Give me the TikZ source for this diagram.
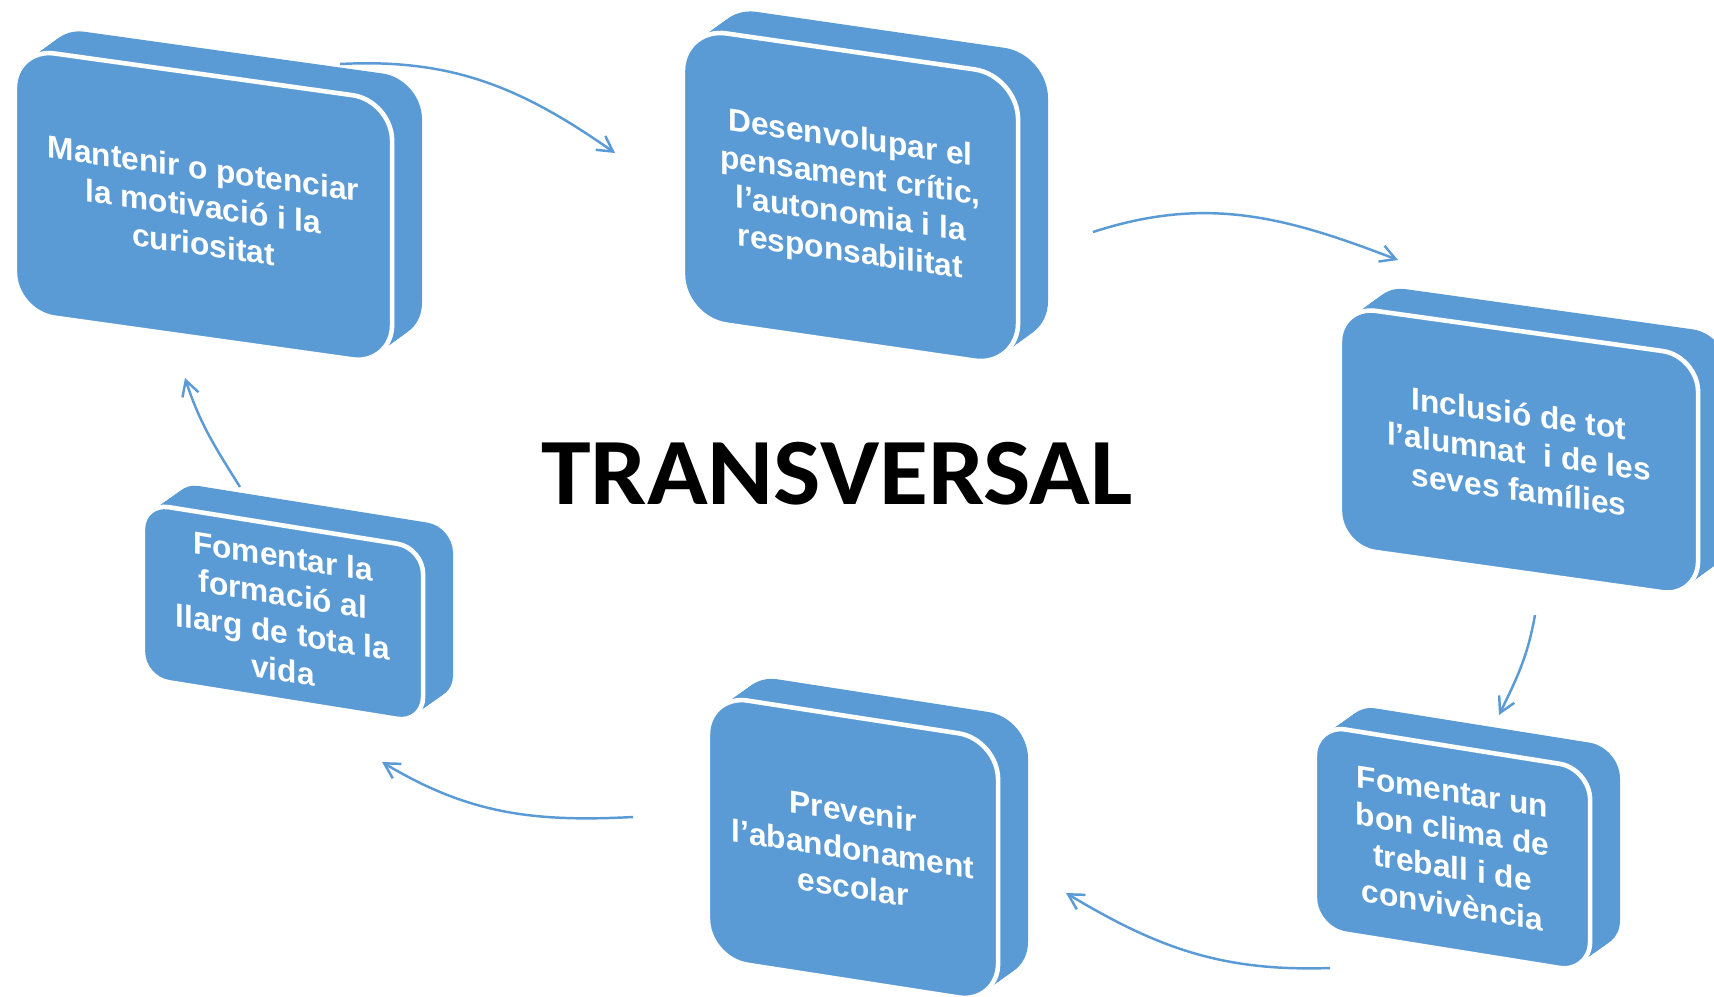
\documentclass[tikz,border=0pt]{standalone}
\usepackage{fontspec}
\setmainfont{Liberation Sans}
\newfontfamily\titlefont{Carlito}
\usetikzlibrary{arrows.meta}
\definecolor{cardblue}{RGB}{91,155,213}
\tikzset{
card/.style={draw=white, line width=1.3pt, fill=cardblue, text=white, align=center, inner sep=0pt, transform shape, font=\bfseries\fontsize{9}{10.8}\selectfont}, % front face of a block
cardside/.style={fill=cardblue}, % extruded back of a block
flow/.style={-{Straight Barb[length=4.3pt,width=4.8pt]}, cardblue, line width=0.7pt},
}
\begin{document}
\begin{tikzpicture}[x=0.01cm, y=-0.01cm]
\useasboundingbox (0,0) rectangle (1714,996);
\clip (0,0) rectangle (1714,996);

% motivacio
\begin{scope}[shift={(203.5,206.4)}, yslant=-0.14]
\foreach \d in {0,...,10}
  \fill[cardside, rounded corners=0.4cm, shift={(3*\d,-2.6*\d)}] (-188.5,-132) rectangle (188.5,132);
\node[card, minimum width=3.77cm, minimum height=2.64cm, rounded corners=0.4cm] (motiv) {Mantenir o potenciar\\la motivació i la\\curiositat};
\end{scope}

% pensament critic
\begin{scope}[shift={(850.5,197)}, yslant=-0.145]
\foreach \d in {0,...,10}
  \fill[cardside, rounded corners=0.44cm, shift={(3*\d,-2.6*\d)}] (-167.5,-145.5) rectangle (167.5,145.5);
\node[card, minimum width=3.35cm, minimum height=2.91cm, rounded corners=0.44cm] (critic) {Desenvolupar el\\pensament crític,\\l’autonomia i la\\responsabilitat};
\end{scope}

% inclusio
\begin{scope}[shift={(1519,451.5)}, yslant=-0.14]
\foreach \d in {0,...,10}
  \fill[cardside, rounded corners=0.36cm, shift={(3*\d,-2.6*\d)}] (-179,-120.5) rectangle (179,120.5);
\node[card, minimum width=3.58cm, minimum height=2.41cm, rounded corners=0.36cm] (inclusio) {Inclusió de tot\\l’alumnat\ \ i de les\\seves famílies};
\end{scope}

% clima
\begin{scope}[shift={(1452.5,848.7)}, yslant=-0.16]
\foreach \d in {0,...,10}
  \fill[cardside, rounded corners=0.31cm, shift={(3*\d,-2.6*\d)}] (-137.5,-102) rectangle (137.5,102);
\node[card, minimum width=2.75cm, minimum height=2.04cm, rounded corners=0.31cm] (clima) {Fomentar un\\bon clima de\\treball i de\\convivència};
\end{scope}

% abandonament
\begin{scope}[shift={(853,849)}, yslant=-0.155]
\foreach \d in {0,...,10}
  \fill[cardside, rounded corners=0.4cm, shift={(3*\d,-2.6*\d)}] (-145,-132) rectangle (145,132);
\node[card, minimum width=2.9cm, minimum height=2.64cm, rounded corners=0.4cm] (abandon) {Prevenir\\l’abandonament\\escolar};
\end{scope}

% formacio
\begin{scope}[shift={(283,613)}, yslant=-0.16]
\foreach \d in {0,...,10}
  \fill[cardside, rounded corners=0.26cm, shift={(3*\d,-2.6*\d)}] (-140,-87.5) rectangle (140,87.5);
\node[card, minimum width=2.8cm, minimum height=1.75cm, rounded corners=0.26cm] (formacio) {Fomentar la\\formació al\\llarg de tota la\\vida};
\end{scope}

\node[font=\titlefont\bfseries\fontsize{27}{30}\selectfont] (title) at (837,474) {\scalebox{1.055}[1]{TRANSVERSAL}};

% arrow ends
\coordinate (motiv-out) at (340,64);
\coordinate (critic-in) at (615,153);
\coordinate (critic-out) at (1093,232);
\coordinate (inclusio-in) at (1398,260);
\coordinate (inclusio-out) at (1535,615);
\coordinate (clima-in) at (1499,715);
\coordinate (clima-out) at (1330,968);
\coordinate (abandon-in) at (1066,893);
\coordinate (abandon-out) at (633,817);
\coordinate (formacio-in) at (382,762);
\coordinate (formacio-out) at (240,487);
\coordinate (motiv-in) at (185,378);

\draw[flow] (motiv-out) to[out=3, in=145] (critic-in);
\draw[flow] (critic-out) to[out=18, in=159] (inclusio-in);
\draw[flow] (inclusio-out) to[out=-100, in=64] (clima-in);
\draw[flow] (clima-out) to[out=182, in=-31] (abandon-in);
\draw[flow] (abandon-out) to[out=183, in=-31] (formacio-in);
\draw[flow] (formacio-out) to[out=122, in=-72] (motiv-in);
\end{tikzpicture}
\end{document}
